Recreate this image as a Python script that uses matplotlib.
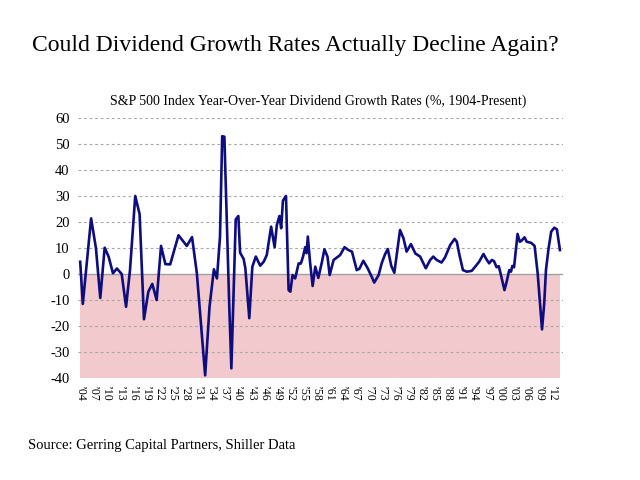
import matplotlib
matplotlib.use("Agg")
import matplotlib.pyplot as plt

# S&P 500 YoY dividend growth (%)
years = [1904.0, 1904.6, 1906.5, 1907.6, 1908.6, 1909.6, 1910.5, 1911.5, 1912.4, 1913.5,
         1914.5, 1915.4, 1916.6, 1917.6, 1918.6, 1919.6, 1920.5, 1921.5, 1922.5, 1923.5,
         1924.6, 1926.5, 1928.4, 1929.6, 1930.7, 1932.6, 1933.6, 1934.6, 1935.3, 1936.0,
         1936.5, 1937.0, 1938.1, 1938.6, 1939.6, 1940.2, 1940.6, 1941.4, 1941.8, 1942.7,
         1943.4, 1944.2, 1945.2, 1946.0, 1946.7, 1947.7, 1948.5, 1949.0, 1949.6, 1950.0,
         1950.4, 1951.1, 1951.7, 1952.1, 1952.6, 1953.2, 1954.0, 1954.5, 1955.0, 1955.5,
         1955.8, 1956.1, 1956.6, 1957.2, 1957.8, 1958.5, 1959.3, 1959.9, 1960.6, 1961.1,
         1962.0, 1962.7, 1963.5, 1964.5, 1965.4, 1966.2, 1967.3, 1967.9, 1968.8, 1969.8,
         1970.7, 1971.3, 1972.3, 1973.0, 1973.8, 1974.4, 1975.2, 1975.9, 1977.2, 1978.0,
         1978.7, 1979.7, 1980.7, 1981.8, 1983.1, 1984.1, 1984.8, 1985.6, 1986.7, 1987.5,
         1988.7, 1989.7, 1990.2, 1990.8, 1991.6, 1992.5, 1993.6, 1994.4, 1995.3, 1996.3,
         1997.0, 1997.6, 1998.2, 1998.7, 1999.3, 1999.8, 2000.3, 2001.1, 2001.6, 2002.2,
         2002.6, 2002.9, 2003.3, 2004.1, 2004.6, 2005.0, 2005.7, 2006.2, 2007.2, 2008.0,
         2008.7, 2009.3, 2009.7, 2010.2, 2010.6, 2011.2, 2011.8, 2012.5, 2013.1, 2013.8]
growth = [4.7, -11.5, 21.4, 10.0, -9.2, 10.1, 6.7, 0.3, 2.1, 0.0,
          -12.6, 1.5, 30.0, 23.0, -17.4, -6.8, -3.8, -10.0, 10.8, 3.8,
          3.7, 14.9, 10.8, 14.2, 0.3, -39.0, -12.6, 1.8, -1.7, 14.4,
          53.0, 52.8, -11.3, -36.3, 21.0, 22.3, 8.2, 5.8, 2.2, -17.0,
          2.8, 6.7, 3.2, 4.7, 7.3, 18.2, 10.3, 18.8, 22.3, 17.6,
          28.2, 30.0, -6.2, -6.8, -0.4, -1.7, 4.1, 4.0, 6.7, 10.3,
          8.0, 14.4, 4.7, -4.6, 2.8, -1.5, 4.4, 9.5, 6.7, -0.4,
          5.4, 6.3, 7.3, 10.3, 9.2, 8.6, 1.5, 2.0, 5.1, 2.2,
          -1.0, -3.3, -0.4, 4.1, 7.7, 9.6, 3.1, 0.5, 16.9, 13.7,
          8.6, 11.5, 7.9, 6.7, 2.2, 5.4, 6.7, 5.4, 4.4, 6.4,
          11.2, 13.5, 12.4, 7.3, 1.5, 0.9, 1.2, 2.8, 4.7, 7.7,
          5.6, 4.1, 5.4, 5.0, 2.6, 3.0, -0.4, -6.2, -3.0, 1.5,
          0.9, 3.1, 2.6, 15.4, 12.4, 12.8, 14.1, 12.4, 12.0, 10.8,
          0.3, -12.6, -21.3, -11.3, 1.5, 9.9, 16.3, 17.8, 17.2, 9.2]

tick_years = list(range(1904, 2013, 3))
tick_labels = ["\u2019%02d" % (y % 100) for y in tick_years]
yticks = list(range(-40, 61, 10))

serif = ["Liberation Serif", "DejaVu Serif"]
plt.rcParams["font.family"] = serif

fig = plt.figure(figsize=(6.4, 4.8), dpi=100)
ax = fig.add_axes([78 / 640, 1 - 378 / 480, (563 - 78) / 640, (378 - 118) / 480])

ax.fill_between([years[0], years[-1]], -40, 0, color="#f2c9cc", zorder=0, linewidth=0)
for y in yticks:
    if y == 0:
        ax.axhline(y, color="#a0a0a0", linewidth=1.0, zorder=1)
    else:
        ax.axhline(y, color="#a8a8a8", linewidth=0.8, linestyle=(0, (2.5, 2.5)), zorder=1)

ax.plot(years, growth, color="#0d0d80", linewidth=1.9, zorder=3)

ax.set_xlim(1903.5, 2014.5)
ax.set_ylim(-40, 60)
ax.set_yticks(yticks)
ax.set_yticklabels([str(v) for v in yticks], fontsize=10.5)
ax.set_xticks(tick_years)
ax.set_xticklabels(tick_labels, rotation=-90, fontsize=8.5)
ax.tick_params(length=0, pad=6)
ax.tick_params(axis="x", pad=6)
for s in ax.spines.values():
    s.set_visible(False)

fig.text(32 / 640, 1 - 45 / 480, "Could Dividend Growth Rates Actually Decline Again?",
         fontsize=17, va="center", ha="left")
fig.text(318 / 640, 1 - 101 / 480,
         "S&P 500 Index Year-Over-Year Dividend Growth Rates (%, 1904-Present)",
         fontsize=10, va="center", ha="center")
fig.text(28 / 640, 1 - 445 / 480, "Source: Gerring Capital Partners, Shiller Data",
         fontsize=10.5, va="center", ha="left")

fig.savefig("out.png", dpi=100)
